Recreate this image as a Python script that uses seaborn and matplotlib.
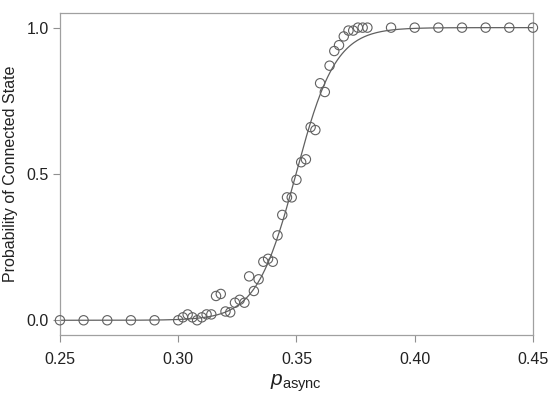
import numpy as np
import pandas as pd
import matplotlib
matplotlib.use("Agg")
import matplotlib.pyplot as plt
import seaborn as sns

p_async = [0.25, 0.26, 0.27, 0.28, 0.29,
           0.300, 0.302, 0.304, 0.306, 0.308, 0.310, 0.312, 0.314, 0.316, 0.318,
           0.320, 0.322, 0.324, 0.326, 0.328, 0.330, 0.332, 0.334, 0.336, 0.338,
           0.340, 0.342, 0.344, 0.346, 0.348, 0.350, 0.352, 0.354, 0.356, 0.358,
           0.360, 0.362, 0.364, 0.366, 0.368, 0.370, 0.372, 0.374, 0.376, 0.378,
           0.380, 0.39, 0.40, 0.41, 0.42, 0.43, 0.44, 0.45]
prob_conn = [0.0, 0.0, 0.0, 0.0, 0.0,
             0.0, 0.01, 0.02, 0.01, 0.0, 0.01, 0.02, 0.02, 0.083, 0.09,
             0.03, 0.027, 0.06, 0.07, 0.06, 0.15, 0.10, 0.14, 0.20, 0.21,
             0.20, 0.29, 0.36, 0.42, 0.42, 0.48, 0.54, 0.55, 0.66, 0.65,
             0.81, 0.78, 0.87, 0.92, 0.94, 0.97, 0.99, 0.99, 1.0, 1.0,
             1.0, 1.0, 1.0, 1.0, 1.0, 1.0, 1.0, 1.0]
x_ticks = [0.25, 0.30, 0.35, 0.40, 0.45]
y_ticks = [0.0, 0.5, 1.0]

df = pd.DataFrame({'p': p_async, 'prob': prob_conn})

# logistic fit by a simple grid search (no scipy needed)
def logistic(x, x0, s):
    return 1.0 / (1.0 + np.exp(-(x - x0) / s))

best = None
for x0 in np.linspace(0.340, 0.360, 201):
    for s in np.linspace(0.003, 0.015, 121):
        sse = np.sum((logistic(df['p'].values, x0, s) - df['prob'].values) ** 2)
        if best is None or sse < best[0]:
            best = (sse, x0, s)
_, x0_fit, s_fit = best
xf = np.linspace(0.25, 0.45, 400)
fit = pd.DataFrame({'p': xf, 'prob': logistic(xf, x0_fit, s_fit)})

sns.set_style("ticks")
plt.rcParams['font.family'] = ['Liberation Sans', 'DejaVu Sans']
plt.rcParams['mathtext.fontset'] = 'custom'
plt.rcParams['mathtext.rm'] = 'Liberation Sans'
plt.rcParams['mathtext.it'] = 'Liberation Sans:italic'

fig, ax = plt.subplots(figsize=(5.5, 3.94), dpi=100)
fig.subplots_adjust(left=0.109, right=0.969, top=0.967, bottom=0.15)

sns.lineplot(data=fit, x='p', y='prob', color='#606060', lw=0.9, ax=ax)
sns.scatterplot(data=df, x='p', y='prob', ax=ax, s=45, marker='o',
                facecolor='none', edgecolor='#606060', linewidth=0.8,
                clip_on=False, zorder=3)

ax.set_xlim(0.25, 0.45)
ax.set_ylim(-0.05, 1.05)
ax.set_xticks(x_ticks)
ax.set_xticklabels([f'{t:.2f}' for t in x_ticks])
ax.set_yticks(y_ticks)
ax.set_yticklabels([f'{t:.1f}' for t in y_ticks])
ax.tick_params(direction='out', length=5, width=0.8, color='#909090',
               labelsize=11.5, labelcolor='#222222')
ax.tick_params(axis='x', pad=7)
ax.tick_params(axis='y', pad=3)
for sp in ax.spines.values():
    sp.set_visible(True)
    sp.set_color('#a0a0a0')
    sp.set_linewidth(0.9)

ax.set_xlabel(r'$p_{\mathrm{async}}$', fontsize=15, labelpad=4, color='#222222')
ax.set_ylabel('Probability of Connected State', fontsize=11.5, color='#222222')
ax.yaxis.set_label_coords(-0.088, 0.5)

fig.savefig('out.png', dpi=100)
